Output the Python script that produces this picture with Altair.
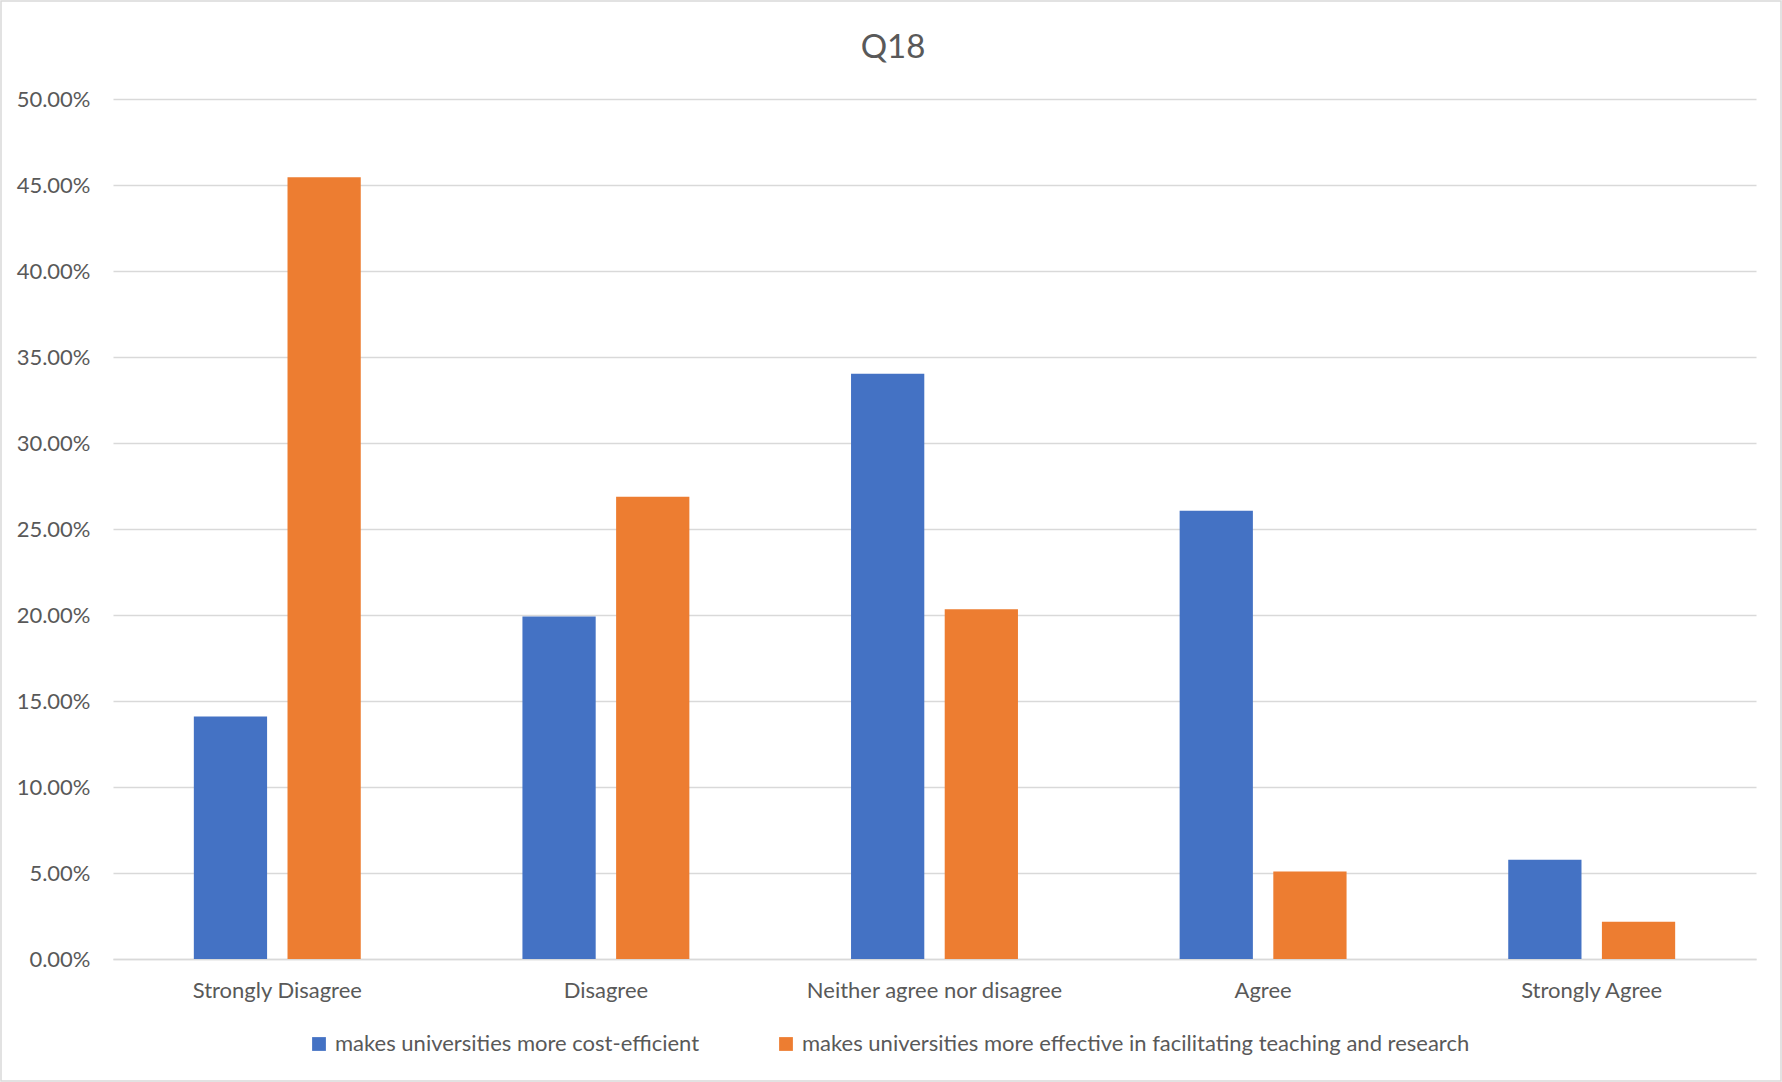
import altair as alt
import pandas as pd

# Survey responses for Q18, share of respondents per answer
categories = ["Strongly Disagree", "Disagree", "Neither agree nor disagree", "Agree", "Strongly Agree"]
series_names = [
    "makes universities more cost-efficient",
    "makes universities more effective in facilitating teaching and research",
]
cost_efficient = [0.1410, 0.1992, 0.3403, 0.2606, 0.0577]
effective_teaching = [0.4545, 0.2688, 0.2033, 0.0509, 0.0217]
series_colors = ["#4472C4", "#ED7D31"]
chart_title = "Q18"

rows = []
for cat, a, b in zip(categories, cost_efficient, effective_teaching):
    rows.append({"answer": cat, "series": series_names[0], "share": a})
    rows.append({"answer": cat, "series": series_names[1], "share": b})
df = pd.DataFrame(rows)

FONT = "Lato"
TEXT = "#595959"
GRID = "#d9d9d9"
FS = 22

W, H = 1643, 860
PAD_L, PAD_T = 113, 99
TOTAL_W, TOTAL_H = 1782, 1082

bars = alt.Chart(df).mark_bar().encode(
    x=alt.X(
        "answer:N",
        sort=categories,
        title=None,
        scale=alt.Scale(paddingInner=0.492, paddingOuter=0.246),
        axis=alt.Axis(
            labelAngle=0,
            labelFont=FONT,
            labelFontSize=FS,
            labelColor=TEXT,
            labelPadding=21,
            labelLimit=0,
            ticks=False,
            domainColor=GRID,
            domainWidth=1.3,
        ),
    ),
    xOffset=alt.XOffset(
        "series:N",
        sort=series_names,
        scale=alt.Scale(paddingInner=0.218, paddingOuter=0),
    ),
    y=alt.Y(
        "share:Q",
        title=None,
        scale=alt.Scale(domain=[0, 0.5], nice=False),
        axis=alt.Axis(
            values=[i * 0.05 for i in range(11)],
            format=".2%",
            labelFont=FONT,
            labelFontSize=FS,
            labelColor=TEXT,
            labelPadding=23,
            ticks=False,
            domain=False,
            gridColor=GRID,
            gridWidth=1.3,
        ),
    ),
    color=alt.Color(
        "series:N",
        sort=series_names,
        title=None,
        scale=alt.Scale(domain=series_names, range=series_colors),
        legend=alt.Legend(
            orient="none",
            direction="horizontal",
            legendX=195,
            legendY=934,
            symbolType="square",
            symbolSize=190,
            symbolStrokeWidth=0,
            labelFont=FONT,
            labelFontSize=FS,
            labelColor=TEXT,
            labelLimit=0,
            labelOffset=5,
            columnPadding=75,
        ),
    ),
)

# chart heading, centred on the whole canvas
heading = alt.Chart(pd.DataFrame({"t": [chart_title]})).mark_text(
    font=FONT, fontSize=33, color=TEXT, align="center", baseline="middle"
).encode(
    text="t:N",
    x=alt.value(TOTAL_W / 2 - PAD_L + 2),
    y=alt.value(-51),
)

# light frame around the whole chart
frame = alt.Chart(pd.DataFrame({"k": [0]})).mark_rect(
    fillOpacity=0, stroke=GRID, strokeWidth=1.5
).encode(
    x=alt.value(-PAD_L + 1),
    x2=alt.value(TOTAL_W - PAD_L - 1),
    y=alt.value(-PAD_T + 1),
    y2=alt.value(TOTAL_H - PAD_T - 1),
)

chart = alt.layer(bars, heading, frame).properties(
    width=W,
    height=H,
    autosize=alt.AutoSizeParams(type="none"),
    padding={"left": PAD_L, "top": PAD_T, "right": TOTAL_W - PAD_L - W, "bottom": TOTAL_H - PAD_T - H},
    background="white",
).configure_view(stroke=None)

chart.save("out.html", embed_options={"renderer": "svg", "actions": False})
